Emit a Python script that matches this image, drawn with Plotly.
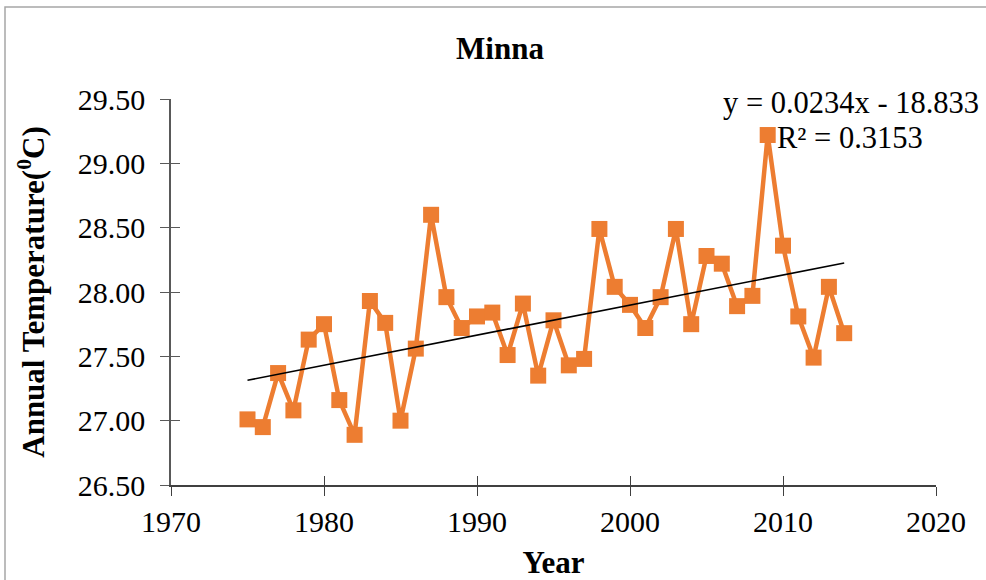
import numpy as np
import plotly.graph_objects as go

years = list(range(1975, 2015))
temps = [27.01, 26.95, 27.37, 27.08, 27.63, 27.75, 27.16, 26.89, 27.93, 27.76,
         27.00, 27.56, 28.60, 27.96, 27.72, 27.81, 27.84, 27.51, 27.91, 27.35,
         27.78, 27.43, 27.48, 28.49, 28.04, 27.90, 27.72, 27.96, 28.49, 27.75,
         28.28, 28.22, 27.89, 27.97, 29.22, 28.36, 27.81, 27.49, 28.04, 27.68]
x_ticks = [1970, 1980, 1990, 2000, 2010, 2020]
y_ticks = [26.5, 27.0, 27.5, 28.0, 28.5, 29.0, 29.5]
title = "Minna"
eq_text = "y = 0.0234x - 18.833"
r2_text = "R² = 0.3153"

slope, intercept = np.polyfit(years, temps, 1)
trend_x = [years[0], years[-1]]
trend_y = [slope * v + intercept for v in trend_x]

FONT = "Liberation Serif, Times New Roman, serif"
AX = "#595959"
W, H = 986, 580
PL, PR, PT, PB = 171, 936, 99, 485  # plot area in px
PW, PH = PR - PL, PB - PT


def px(x):
    return (x - PL) / PW


def py(y):
    return (PB - y) / PH


fig = go.Figure()
fig.add_trace(go.Scatter(x=years, y=temps, mode="lines+markers",
                         line=dict(color="#ED7D31", width=4.5),
                         marker=dict(symbol="square", size=16, color="#ED7D31"),
                         showlegend=False))
fig.add_trace(go.Scatter(x=trend_x, y=trend_y, mode="lines",
                         line=dict(color="black", width=1.6), showlegend=False))
fig.add_trace(go.Scatter(x=[None], y=[None], xaxis="x2", yaxis="y2", showlegend=False))

fig.update_layout(
    width=W, height=H,
    margin=dict(l=PL, r=W - PR, t=PT, b=H - PB, autoexpand=False),
    paper_bgcolor="white", plot_bgcolor="white",
    font=dict(family=FONT, color="black"),
    title=dict(text="<b>" + title + "</b>", x=px(500), xref="paper",
               xanchor="center", y=1 - 48 / H, yanchor="middle",
               font=dict(size=31, family=FONT)),
    xaxis=dict(range=[1970, 2020], tickvals=x_ticks, ticktext=[str(v) for v in x_ticks],
               showgrid=False, zeroline=False, showline=True, linecolor="#404040", linewidth=1.5,
               ticks="outside", ticklen=9, tickcolor="#404040", tickwidth=1.2,
               tickfont=dict(size=30, family=FONT), ticklabelstandoff=0, automargin=False,
               title=dict(text="<b>Year</b>", font=dict(size=31, family=FONT), standoff=18)),
    yaxis=dict(range=[26.5, 29.5], tickvals=y_ticks, ticktext=[f"{v:.2f}" for v in y_ticks],
               showgrid=False, zeroline=False, showline=True, linecolor=AX, linewidth=1.5,
               ticks="outside", ticklen=9, tickcolor=AX, tickwidth=1.2,
               tickfont=dict(size=30, family=FONT), ticklabelstandoff=9, automargin=False,
               title=dict(text="<b>Annual Temperature(<sup>0</sup>C)</b>",
                          font=dict(size=31, family=FONT), standoff=24)),
    xaxis2=dict(range=[1970, 2020], overlaying="x", tickvals=x_ticks, showticklabels=False,
                showgrid=False, zeroline=False, showline=False, automargin=False,
                ticks="inside", ticklen=9, tickcolor="#404040", tickwidth=1.2),
    yaxis2=dict(range=[26.5, 29.5], overlaying="y", tickvals=y_ticks, showticklabels=False,
                showgrid=False, zeroline=False, showline=False, automargin=False,
                ticks="inside", ticklen=9, tickcolor=AX, tickwidth=1.2),
    shapes=[dict(type="rect", xref="paper", yref="paper",
                 x0=px(5), x1=px(995), y0=py(595), y1=py(7),
                 line=dict(color="#A6A6A6", width=1.5), fillcolor="rgba(0,0,0,0)", layer="below")],
    annotations=[
        dict(text=eq_text, xref="paper", yref="paper", x=px(981), y=py(103),
             xanchor="right", yanchor="middle", showarrow=False, font=dict(size=30.5, family=FONT)),
        dict(text=r2_text, xref="paper", yref="paper", x=px(850), y=py(138),
             xanchor="center", yanchor="middle", showarrow=False, font=dict(size=30.5, family=FONT)),
    ],
)

fig.write_html("out.html", config={"displayModeBar": False},
               post_script="document.body.style.margin='0';document.body.style.padding='0';")
